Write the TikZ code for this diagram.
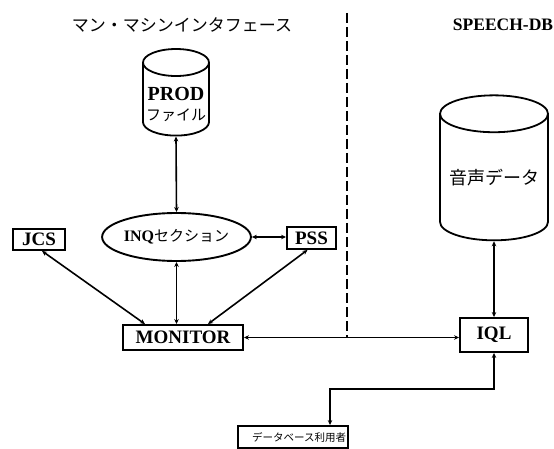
\documentclass[tikz,border=0pt]{standalone}
\usepackage{fontspec}
\setmainfont{Liberation Serif}
\newfontfamily\jpfont{Noto Sans CJK JP}
\usetikzlibrary{positioning,shapes.geometric,arrows.meta}

\begin{document}
\begin{tikzpicture}[x=1pt, y=1pt,
    box/.style={draw, line width=1.9pt, inner sep=0pt, font=\bfseries\fontsize{19}{21}\selectfont},
    cyl/.style={draw, cylinder, shape border rotate=90, line width=1.8pt, inner sep=0pt},
    link/.style={{Stealth[length=5pt,width=4.5pt]}-{Stealth[length=5pt,width=4.5pt]}, line width=1.6pt}]
  \useasboundingbox (0,0) rectangle (554,-449);

  % Titres des deux parties
  \node[font=\jpfont\fontsize{17}{19}\selectfont] (mmi) at (182,-25) {マン・マシンインタフェース};
  \node[font=\bfseries\fontsize{17.5}{19}\selectfont] (sdb) at (503,-25) {SPEECH-DB};

  % Séparation en pointillés
  \coordinate (dtop) at (347,-13);

  % --- Fichiers (cylindres) ---
  \node[cyl, minimum width=66pt, minimum height=83pt, aspect=0.45, align=center,
        font=\fontsize{20}{20}\selectfont] (prod) at (176,-99.5)
    {\mbox{}\\[4pt]\textbf{PROD}\\{\jpfont\fontsize{15}{17}\selectfont ファイル}};
  \node[cyl, minimum width=108pt, minimum height=145pt, aspect=0.41,
        font=\jpfont\fontsize{18}{20}\selectfont] (onsei) at (494,-177.5) {音声データ};

  % --- Modules ---
  \node[draw, ellipse, line width=1.9pt, minimum width=133pt, minimum height=48pt, inner sep=0pt] (inq) at (176.5,-237)
    {{\bfseries\fontsize{16}{18}\selectfont INQ}{\jpfont\fontsize{15}{17}\selectfont セクション}};
  \node[box, minimum width=52pt, minimum height=21pt] (jcs) at (39,-239.5) {JCS};
  \node[box, minimum width=49pt, minimum height=22pt] (pss) at (311.5,-238) {PSS};
  \node[box, minimum width=120pt, minimum height=25pt] (monitor) at (183,-337.5) {MONITOR};
  \node[box, minimum width=68pt, minimum height=34pt] (iql) at (494,-335) {IQL};
  \node[box, minimum width=110pt, minimum height=22pt, font=\jpfont\fontsize{10.5}{12}\selectfont] (user) at (293,-437)
    {\hspace{12pt}データベース利用者};

  \draw[dashed, dash pattern=on 10pt off 4pt, line width=1.8pt] (dtop) -- (dtop |- monitor.east);

  % --- Liaisons ---
  \draw[link] (prod.south) -- (inq.north);
  \draw[link] (inq.east) -- (inq.east -| pss.west);
  \draw[link] ([xshift=3pt]jcs.south) -- ([xshift=-38pt]monitor.north);
  \draw[link] (inq.south) -- (inq.south |- monitor.north);
  \draw[link] ([xshift=-4pt]pss.south) -- ([xshift=25pt]monitor.north);
  \draw[link] (monitor.east) -- (monitor.east -| iql.west);
  \draw[link] (onsei.south) -- (iql.north);
  \draw[link] (iql.south) -- ++(0,-36) -| ([xshift=37pt]user.north);
\end{tikzpicture}
\end{document}
